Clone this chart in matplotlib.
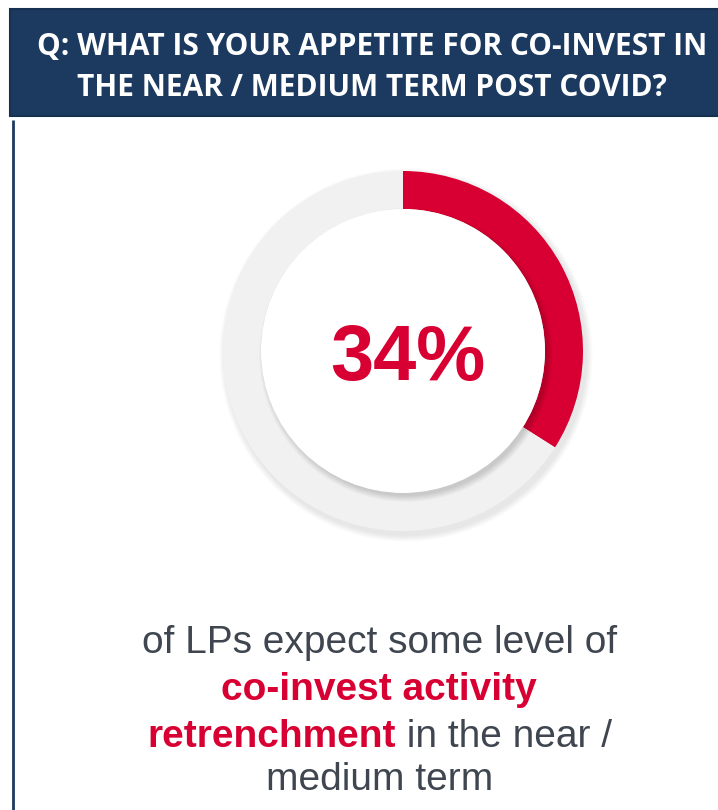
import numpy as np
import matplotlib.pyplot as plt
import matplotlib.patches as mpatches

# Data ----------------------------------
question = ["Q: WHAT IS YOUR APPETITE FOR CO-INVEST IN",
            "THE NEAR / MEDIUM TERM POST COVID?"]
share_pct = 34
labels = ["Retrenchment", "Other"]
values = [share_pct, 100 - share_pct]

NAVY = "#1c3a60"
RED = "#d80032"
GREY_RING = "#f1f1f1"
TEXT_GREY = "#3f4650"

W, H = 718, 810
fig = plt.figure(figsize=(W / 100, H / 100), dpi=100)
fig.patch.set_facecolor("white")

# Base axes in pixel coordinates ----------------------------------
ax = fig.add_axes([0, 0, 1, 1])
ax.set_xlim(0, W)
ax.set_ylim(H, 0)
ax.axis("off")

# Header box
ax.add_patch(mpatches.Rectangle((10, 9), W, 107, facecolor=NAVY,
                                edgecolor="#16304f", linewidth=1.5, zorder=1))
for i, line in enumerate(question):
    ax.text(372, 55 + i * 41, line, color="white", fontsize=21.5,
            fontweight="bold", family="Open Sans", ha="center", va="baseline",
            zorder=2)

# Panel left border
ax.plot([13, 13], [120, H], color=NAVY, linewidth=2, solid_capstyle="butt")

# Donut ----------------------------------
cx, cy, r_out, r_in = 403, 351, 180, 142
pad = 12
dax = fig.add_axes([(cx - r_out - pad) / W, 1 - (cy + r_out + pad) / H,
                    2 * (r_out + pad) / W, 2 * (r_out + pad) / H])

# soft shadow behind the ring
for k in range(8):
    dax.add_patch(mpatches.Circle((3, -4), r_out + 1 + k * 0.8,
                                  facecolor="black", alpha=0.01, zorder=0))

dax.pie(values, colors=[RED, GREY_RING], startangle=90, counterclock=False,
        radius=r_out, wedgeprops=dict(width=r_out - r_in, linewidth=0),
        frame=True)
dax.set_xlim(-r_out - pad, r_out + pad)
dax.set_ylim(-r_out - pad, r_out + pad)
dax.set_aspect("equal")
dax.axis("off")

# shadow of the inner white disc
for k in range(10):
    dax.add_patch(mpatches.Circle((3, -4), r_in + 5 - k * 0.7,
                                  facecolor="black", alpha=0.014, zorder=5))
dax.add_patch(mpatches.Circle((0, 0), r_in, facecolor="white", zorder=6))
dax.text(4.5, -29, f"{share_pct}%", color=RED, fontsize=56, fontweight="bold",
         family="Liberation Sans", ha="center", va="baseline", zorder=7)

# Bottom caption ----------------------------------
fs = 28
ax.text(380, 653, "of LPs expect some level of", color=TEXT_GREY, fontsize=fs,
        family="Liberation Sans", ha="center", va="baseline")
ax.text(379, 700, "co-invest activity", color=RED, fontsize=fs,
        fontweight="bold", family="Liberation Sans", ha="center", va="baseline")

fig.canvas.draw()
renderer = fig.canvas.get_renderer()
t1 = ax.text(0, 747, "retrenchment", color=RED, fontsize=fs, fontweight="bold",
             family="Liberation Sans", ha="left", va="baseline")
t2 = ax.text(0, 747, " in the near /", color=TEXT_GREY, fontsize=fs,
             family="Liberation Sans", ha="left", va="baseline")
w1 = t1.get_window_extent(renderer).width
w2 = t2.get_window_extent(renderer).width
x0 = 380 - (w1 + w2) / 2
t1.set_x(x0)
t2.set_x(x0 + w1)
ax.text(380, 790, "medium term", color=TEXT_GREY, fontsize=fs,
        family="Liberation Sans", ha="center", va="baseline")

fig.savefig("out.png", dpi=100, facecolor="white")
